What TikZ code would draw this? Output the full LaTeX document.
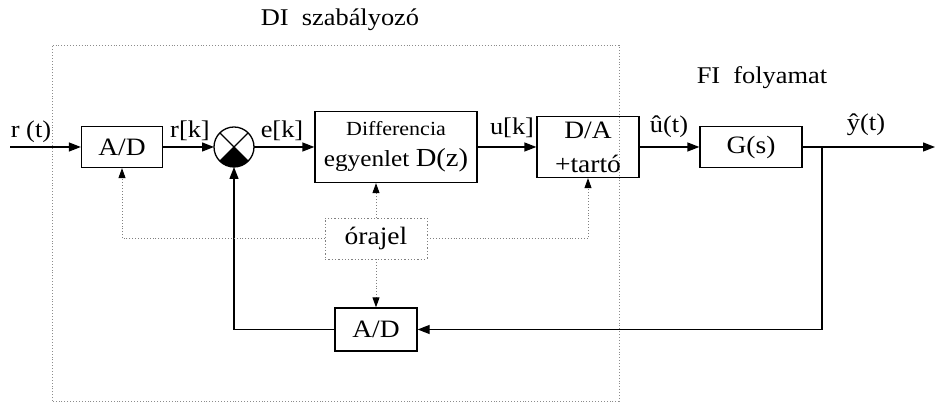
\documentclass[tikz,border=0pt]{standalone}
\usepackage{fontspec}
\setmainfont{Liberation Serif}[FakeStretch=1.1]
\usetikzlibrary{arrows.meta,positioning,calc}
\tikzset{
  blk/.style={rectangle,draw,line width=1.3pt,inner sep=0pt,font=\fontsize{25}{28}\selectfont,align=center},
  lbl/.style={inner sep=0pt,font=\fontsize{24}{28}\selectfont},
  sig/.style={-{Triangle[length=12pt,width=9pt]},line width=1.3pt},
  clk/.style={-{Triangle[length=10pt,width=7pt,color=black]},dotted,draw=black!50,line width=0.9pt},
}
\begin{document}
\begin{tikzpicture}[x=1pt,y=1pt]
  \useasboundingbox (0,0) rectangle (935,403);
  % discrete controller frame
  \draw[dotted,draw=black!45,line width=0.9pt] (52,2) rectangle (619,358);
  \node[lbl] (tdi) at (340,383) {DI~~szabályozó};
  \node[lbl] (tfi) at (762,325) {FI~~folyamat};

  % forward path
  \node[blk,minimum width=81pt,minimum height=41pt] (ad1) at (122,256) {A/D};
  \node[circle,draw,line width=1.3pt,minimum size=40pt,inner sep=0pt,outer sep=0pt] (sum) at (234,256) {};
  \draw[line width=1.3pt] (sum.45) -- (sum.-135) (sum.135) -- (sum.-45);
  \fill (sum.center) -- (sum.-45) arc[start angle=-45,end angle=-135,radius=20pt] -- cycle;
  \node[blk,minimum width=162pt,minimum height=71pt,font=\fontsize{23}{31}\selectfont] (diff) at (396,256)
    {{\fontsize{20}{22}\selectfont Differencia}\\egyenlet {\fontsize{26}{28}\selectfont D(z)}};
  \node[blk,minimum width=102pt,minimum height=61pt,font=\fontsize{25}{34}\selectfont] (da) at (588,256) {D/A\\+tartó};
  \node[blk,minimum width=102pt,minimum height=41pt] (gs) at (751,256) {G(s)};
  \node[blk,minimum width=82pt,minimum height=43pt] (ad2) at (376,73.5) {A/D};
  \node[blk,dotted,draw=black!50,line width=0.9pt,minimum width=102pt,minimum height=41pt] (clk) at (376,164.5) {órajel};

  \coordinate (in) at (10,256);
  \coordinate (br) at (822,256);
  \coordinate (out) at (935,256);

  \draw[sig] (in) -- (ad1);
  \draw[sig] (ad1) -- (sum);
  \draw[sig] (sum) -- (diff);
  \draw[sig] (diff) -- (da);
  \draw[sig] (da) -- (gs);
  \draw[sig] (gs) -- (out);
  % feedback through the second converter
  \draw[sig] (br) |- (ad2);
  \draw[sig] (ad2) -| (sum);

  % clock lines
  \draw[clk] (clk) -| (ad1);
  \draw[clk] (clk) -| (da);
  \draw[clk] (clk) -- (clk |- diff.south);
  \draw[clk] (clk) -- (ad2);

  % signal names
  \node[lbl] (lrt) at (31,271) {r (t)};
  \node[lbl] (lrk) at (190,272) {r[k]};
  \node[lbl] (lek) at (282,272) {e[k]};
  \node[lbl] (luk) at (512,275) {u[k]};
  \node[lbl] (lut) at (669,276) {û(t)};
  \node[lbl] (lyt) at (866,278) {ŷ(t)};
\end{tikzpicture}
\end{document}
